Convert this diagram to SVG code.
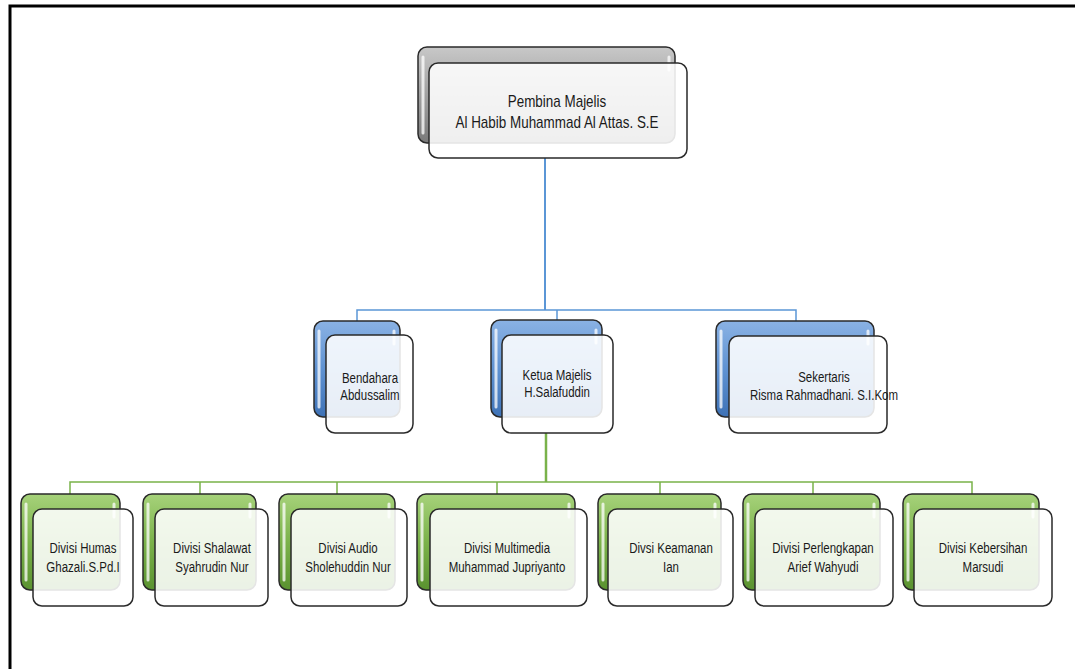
<svg xmlns="http://www.w3.org/2000/svg" width="1075" height="669" viewBox="0 0 1075 669">
<defs>
<linearGradient id="gGray" x1="0" y1="0" x2="0" y2="1"><stop offset="0" stop-color="#c8c8c8"/><stop offset="0.5" stop-color="#a0a0a0"/><stop offset="1" stop-color="#7a7a7a"/></linearGradient>
<linearGradient id="gBlue" x1="0" y1="0" x2="0" y2="1"><stop offset="0" stop-color="#8ab2e4"/><stop offset="0.5" stop-color="#5f92d2"/><stop offset="1" stop-color="#3e72b6"/></linearGradient>
<linearGradient id="gGreen" x1="0" y1="0" x2="0" y2="1"><stop offset="0" stop-color="#a6d27a"/><stop offset="0.5" stop-color="#7bb24a"/><stop offset="1" stop-color="#5a9230"/></linearGradient>
</defs>
<style>
.back{stroke:#2a2a2a;stroke-width:1.5}
.front{fill:#ffffff;fill-opacity:0.88;stroke:#2a2a2a;stroke-width:1.5}
.hl{stroke:#ffffff;stroke-opacity:0.75;stroke-width:3;stroke-linecap:round;fill:none}
.t{font-family:"Liberation Sans",Arial,sans-serif;font-size:14px;fill:#1a1a1a;text-anchor:middle}
.tt{font-family:"Liberation Sans",Arial,sans-serif;font-size:16px;fill:#1a1a1a;text-anchor:middle}
.cb{stroke:#5b96d6;fill:none}
.cg{stroke:#79b24a;fill:none}
</style>
<rect x="0" y="0" width="1075" height="669" fill="#ffffff"/>
<path d="M10 669 V6 H1075" fill="none" stroke="#000" stroke-width="3"/>
<g id="connectors">
<path class="cb" stroke-width="2" d="M545 158 V310"/>
<path class="cb" stroke-width="1.5" d="M357 321 V310 H796 V321 M557 310 V320"/>
<path class="cg" stroke-width="2.5" d="M546 433 V482"/>
<path class="cg" stroke-width="1.5" d="M70 494 V482 H972 V494 M200 482 V494 M337 482 V494 M497 482 V494 M660 482 V494 M813 482 V494"/>
</g>
<g id="pembina">
<rect class="back" x="418" y="47" width="257" height="96" rx="9" fill="url(#gGray)"/>
<path class="hl" d="M423 57 V133 M669 57 V70"/>
<rect class="front" x="429" y="63" width="258" height="95" rx="9"/>
<g transform="translate(557,0) scale(0.84,1)">
<text class="tt" x="0" y="107">Pembina Majelis</text>
<text class="tt" x="0" y="128">Al Habib Muhammad Al Attas. S.E</text>
</g>
</g>
<g id="bendahara">
<rect class="back" x="314" y="321" width="86" height="96" rx="9" fill="url(#gBlue)"/>
<path class="hl" d="M319 331 V407 M394 331 V344"/>
<rect class="front" x="326" y="335" width="87" height="98" rx="9"/>
<g transform="translate(370,0) scale(0.82,1)">
<text class="t" x="0" y="383">Bendahara</text>
<text class="t" x="0" y="400">Abdussalim</text>
</g>
</g>
<g id="ketua">
<rect class="back" x="491" y="320" width="111" height="97" rx="9" fill="url(#gBlue)"/>
<path class="hl" d="M496 330 V407 M596 330 V343"/>
<rect class="front" x="502" y="335" width="111" height="98" rx="9"/>
<g transform="translate(557,0) scale(0.82,1)">
<text class="t" x="0" y="380">Ketua Majelis</text>
<text class="t" x="0" y="397">H.Salafuddin</text>
</g>
</g>
<g id="sekertaris">
<rect class="back" x="716" y="321" width="158" height="96" rx="9" fill="url(#gBlue)"/>
<path class="hl" d="M721 331 V407 M868 331 V344"/>
<rect class="front" x="729" y="336" width="158" height="97" rx="9"/>
<g transform="translate(824,0) scale(0.82,1)">
<text class="t" x="0" y="382">Sekertaris</text>
<text class="t" x="0" y="400">Risma Rahmadhani. S.I.Kom</text>
</g>
</g>
<g id="humas">
<rect class="back" x="21" y="494" width="99" height="96" rx="9" fill="url(#gGreen)"/>
<path class="hl" d="M26 504 V580 M114 504 V517"/>
<rect class="front" x="33" y="509" width="100" height="97" rx="9"/>
<g transform="translate(83,0) scale(0.82,1)">
<text class="t" x="0" y="553">Divisi Humas</text>
<text class="t" x="0" y="572">Ghazali.S.Pd.I</text>
</g>
</g>
<g id="shalawat">
<rect class="back" x="143" y="494" width="113" height="96" rx="9" fill="url(#gGreen)"/>
<path class="hl" d="M148 504 V580 M250 504 V517"/>
<rect class="front" x="155" y="509" width="113" height="97" rx="9"/>
<g transform="translate(212,0) scale(0.82,1)">
<text class="t" x="0" y="553">Divisi Shalawat</text>
<text class="t" x="0" y="572">Syahrudin Nur</text>
</g>
</g>
<g id="audio">
<rect class="back" x="279" y="494" width="116" height="96" rx="9" fill="url(#gGreen)"/>
<path class="hl" d="M284 504 V580 M389 504 V517"/>
<rect class="front" x="291" y="509" width="116" height="97" rx="9"/>
<g transform="translate(348,0) scale(0.82,1)">
<text class="t" x="0" y="553">Divisi Audio</text>
<text class="t" x="0" y="572">Sholehuddin Nur</text>
</g>
</g>
<g id="multimedia">
<rect class="back" x="417" y="494" width="158" height="96" rx="9" fill="url(#gGreen)"/>
<path class="hl" d="M422 504 V580 M569 504 V517"/>
<rect class="front" x="430" y="509" width="157" height="97" rx="9"/>
<g transform="translate(507,0) scale(0.82,1)">
<text class="t" x="0" y="553">Divisi Multimedia</text>
<text class="t" x="0" y="572">Muhammad Jupriyanto</text>
</g>
</g>
<g id="keamanan">
<rect class="back" x="598" y="494" width="123" height="96" rx="9" fill="url(#gGreen)"/>
<path class="hl" d="M603 504 V580 M715 504 V517"/>
<rect class="front" x="608" y="509" width="125" height="97" rx="9"/>
<g transform="translate(671,0) scale(0.82,1)">
<text class="t" x="0" y="553">Divsi Keamanan</text>
<text class="t" x="0" y="572">Ian</text>
</g>
</g>
<g id="perlengkapan">
<rect class="back" x="743" y="494" width="137" height="96" rx="9" fill="url(#gGreen)"/>
<path class="hl" d="M748 504 V580 M874 504 V517"/>
<rect class="front" x="755" y="509" width="138" height="97" rx="9"/>
<g transform="translate(823,0) scale(0.82,1)">
<text class="t" x="0" y="553">Divisi Perlengkapan</text>
<text class="t" x="0" y="572">Arief Wahyudi</text>
</g>
</g>
<g id="kebersihan">
<rect class="back" x="903" y="494" width="136" height="96" rx="9" fill="url(#gGreen)"/>
<path class="hl" d="M908 504 V580 M1033 504 V517"/>
<rect class="front" x="914" y="509" width="138" height="97" rx="9"/>
<g transform="translate(983,0) scale(0.82,1)">
<text class="t" x="0" y="553">Divisi Kebersihan</text>
<text class="t" x="0" y="572">Marsudi</text>
</g>
</g>
</svg>
